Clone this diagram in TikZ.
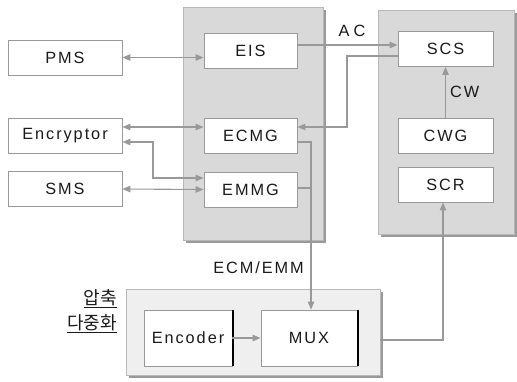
\documentclass[tikz,border=0pt]{standalone}
\usepackage{fontspec}
\setmainfont{Liberation Sans}[LetterSpace=12]
\newfontfamily\krfont{Noto Sans CJK KR}
\usetikzlibrary{arrows.meta,calc}
\definecolor{linegray}{HTML}{999999}
\definecolor{panelgray}{HTML}{D9D9D9}
\definecolor{panellight}{HTML}{EFEFEF}
\definecolor{shadowgray}{HTML}{9A9A9A}
\definecolor{txt}{HTML}{1A1A1A}
\tikzset{
  box/.style={draw=linegray, fill=white, line width=0.9pt, minimum height=35pt,
    inner sep=0pt, text=txt, font=\fontsize{16.3}{19}\selectfont},
  panel/.style={draw=linegray!70, fill=panelgray, line width=0.8pt},
  shade/.style={fill=shadowgray},
  conn/.style={draw=linegray, line width=1.1pt},
  tip/.style={-{Triangle[length=8pt,width=6.5pt]}},
  tips/.style={{Triangle[length=8pt,width=6.5pt]}-{Triangle[length=8pt,width=6.5pt]}},
  lbl/.style={text=txt, font=\fontsize{16.3}{19}\selectfont, inner sep=0pt}
}
\begin{document}
\begin{tikzpicture}[x=1pt,y=-1pt]
\useasboundingbox[fill=white] (0,0) rectangle (517,381);

% shaded panels
\fill[shade] (186,10) rectangle (326,243);
\draw[panel] (183,7) rectangle (323,240);
\fill[shade] (381,13) rectangle (517,237);
\draw[panel] (378,10) rectangle (514,234);
\fill[shade] (129,292) rectangle (383,378);
\draw[panel, fill=panellight] (126,289) rectangle (380,375);
\coordinate (bottomR) at (380,340);

% left column
\node[box, minimum width=114pt] (pms) at (65,57.5) {PMS};
\node[box, minimum width=114pt] (enc) at (65,135.5) {Encryptor};
\node[box, minimum width=114pt] (sms) at (65,189) {SMS};

% head-end servers
\node[box, minimum width=93pt] (eis) at (250.5,50.5) {EIS};
\node[box, minimum width=93pt] (ecmg) at (250.5,135.5) {ECMG};
\node[box, minimum width=93pt] (emmg) at (250.5,189.5) {EMMG};

% scrambling side
\node[box, minimum width=95pt] (scs) at (445.5,49) {SCS};
\node[box, minimum width=95pt] (cwg) at (445.5,135.5) {CWG};
\node[box, minimum width=95pt] (scr) at (445.5,184.5) {SCR};

% compression / multiplexing
\node[box, minimum width=88pt, minimum height=56pt] (encoder) at (188,338) {Encoder};
\node[box, minimum width=96pt, minimum height=56pt] (mux) at (309,338) {MUX};
\draw[black, line width=2pt] ([xshift=1pt]encoder.north east) -- ([xshift=1pt]encoder.south east);
\draw[black, line width=2pt] ([xshift=1pt]mux.north east) -- ([xshift=1pt]mux.south east);

\node[lbl, anchor=east, align=right, font=\krfont\fontsize{18}{25}\selectfont] (kr) at (117,311)
  {\underline{압축}\\\underline{다중화}};

% connectors
\draw[conn, tips] (pms.east) -- (pms.east -| eis.west);
\draw[conn, tips] ([yshift=8.5pt]enc.east) -- ([yshift=8.5pt]ecmg.west);
\draw[conn, tips] ([yshift=-6.5pt]enc.east) -| (153,178) -- ([yshift=11.5pt]emmg.west);
\draw[conn, tips] (sms.east) -- (emmg.west);

\draw[conn, tip] ([yshift=5.5pt]eis.east) -- ([yshift=4pt]scs.west);
\node[lbl, font=\fontsize{16.3}{19}\selectfont\addfontfeature{LetterSpace=25}] (ac) at (352,31) {AC};
\draw[conn, tip] ([yshift=-7pt]scs.west) -| (347,127) -- ([yshift=8.5pt]ecmg.east);
\draw[conn, tip] (cwg.north) -- (scs.south)
  node[lbl, midway, right=4pt] (cw) {CW};

\draw[conn] ([yshift=-6.5pt]ecmg.east) -| (311,189);
\draw[conn, tip] ([yshift=1.5pt]emmg.east) -| ([xshift=2pt]mux.north);
\node[lbl, anchor=east] (ecmemm) at (304,268) {ECM/EMM};

\draw[conn, tip] (encoder.east) -- (mux.west);
\draw[conn, tip] (bottomR) -| ([xshift=-2.5pt]scr.south);

\end{tikzpicture}
\end{document}
